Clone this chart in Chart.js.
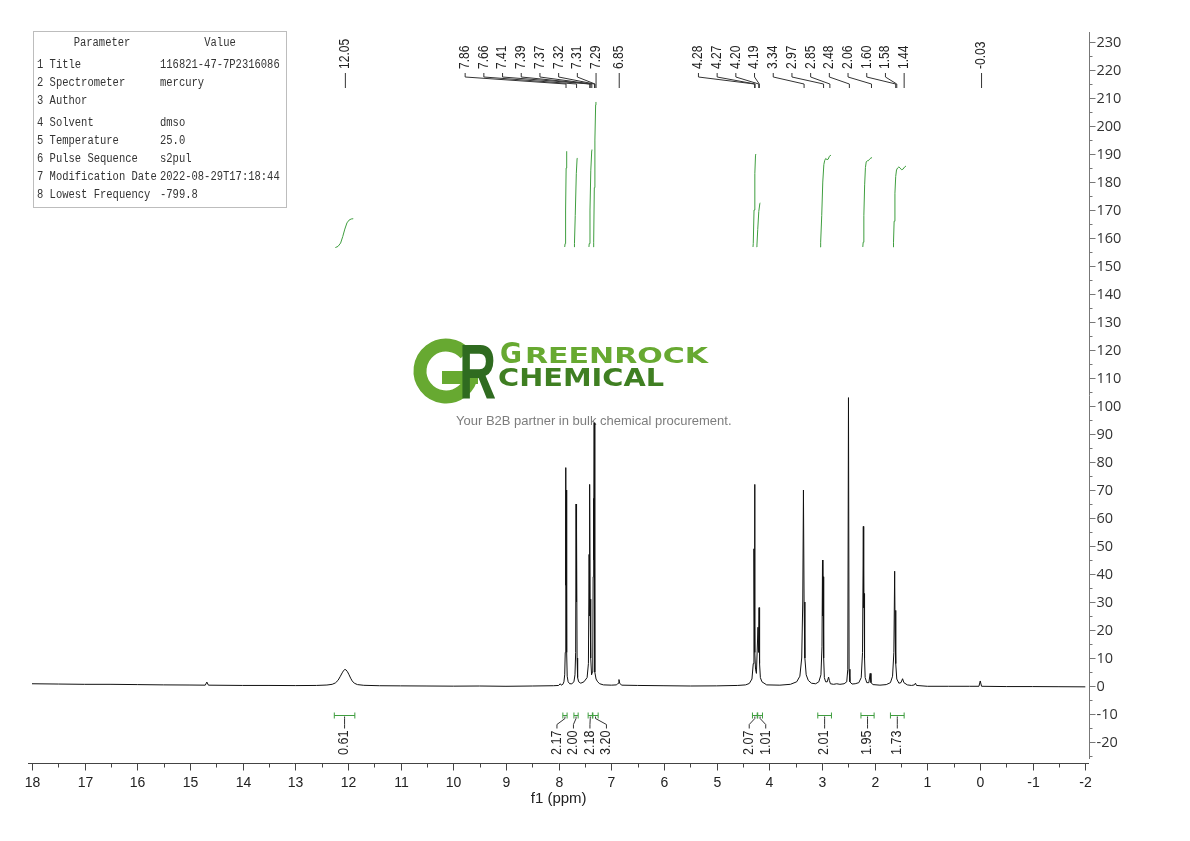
<!DOCTYPE html>
<html>
<head>
<meta charset="utf-8">
<title>1H NMR 116821-47-7</title>
<script src="https://cdn.jsdelivr.net/npm/chart.js@4.4.0/dist/chart.umd.min.js"></script>
<style>
  html, body { margin: 0; padding: 0; background: #fff; }
  #wrap { width: 1190px; height: 841px; }
</style>
</head>
<body>
<div id="wrap"><canvas id="nmr" width="1190" height="841"></canvas></div>
<script>
// spectrum (ppm, intensity)
const specPpm = [18.00, 17.50, 17.00, 16.50, 16.00, 15.50, 15.00, 14.71, 14.68, 14.65, 14.00, 13.50, 13.00, 12.60,
  12.40, 12.30, 12.24, 12.19, 12.15, 12.11, 12.08, 12.06, 12.04, 12.01, 11.98, 11.95, 11.92, 11.88, 11.82, 11.70,
  11.40, 11.00, 10.50, 10.00, 9.50, 9.00, 8.50, 8.10, 8.00, 7.97, 7.95,
  7.92, 7.90, 7.885, 7.875, 7.868, 7.862, 7.855, 7.848, 7.838, 7.82, 7.79, 7.75,
  7.71, 7.69, 7.677, 7.670, 7.664, 7.657, 7.650, 7.64, 7.62, 7.58, 7.52,
  7.46, 7.435, 7.422, 7.415, 7.408, 7.402, 7.395, 7.388, 7.375, 7.360,
  7.352, 7.345, 7.338, 7.332, 7.326, 7.318, 7.31, 7.29, 7.26, 7.22, 7.15,
  7.00, 6.90, 6.87, 6.855, 6.84, 6.80, 6.50, 6.00, 5.50, 5.00, 4.60, 4.45, 4.38,
  4.33, 4.305, 4.292, 4.286, 4.280, 4.272, 4.262, 4.245, 4.215, 4.205, 4.195, 4.185, 4.17, 4.14, 4.05,
  3.80, 3.60, 3.48, 3.42, 3.385, 3.365, 3.352, 3.340, 3.325, 3.30, 3.26, 3.20, 3.12,
  3.06, 3.02, 3.000, 2.990, 2.983, 2.976, 2.968, 2.955, 2.93, 2.90, 2.875, 2.86, 2.84, 2.78, 2.72, 2.66, 2.58,
  2.53, 2.510, 2.497, 2.485, 2.47, 2.43, 2.37, 2.30,
  2.255, 2.230, 2.215, 2.208, 2.200, 2.192, 2.18, 2.15, 2.11, 2.085, 2.07, 2.03, 1.90, 1.78,
  1.70, 1.66, 1.635, 1.620, 1.612, 1.604, 1.595, 1.58, 1.54, 1.50, 1.47, 1.445, 1.38, 1.30,
  1.245, 1.225, 1.205, 1.00, 0.60, 0.20, 0.02, -0.005, -0.03, -0.50, -1.00, -1.50, -2.00];
const specInt = [0.8, 0.7, 0.6, 0.6, 0.5, 0.4, 0.35, 0.3, 1.4, 0.3, 0.2, 0.2, 0.15, 0.2,
  0.35, 0.6, 1.1, 2.0, 3.3, 4.7, 5.6, 5.9, 5.8, 5.1, 4.0, 2.8, 1.8, 1.0, 0.5, 0.25,
  0.1, 0.05, 0.0, -0.05, 0.0, -0.1, 0.0, 0.1, 0.2, 0.8, 0.3,
  0.6, 1.5, 4, 12, 78, 36, 70, 12, 3.5, 1.5, 0.8, 0.8,
  1.5, 4, 12, 65, 30, 56, 10, 3, 1.5, 1.0, 1.5,
  3, 8, 47, 25, 72, 28, 31, 10, 4, 5,
  10, 39, 67, 45, 94, 14, 5, 2.5, 1.5, 0.8, 0.4,
  0.3, 0.4, 1.0, 2.3, 0.9, 0.3, 0.2, 0.1, 0.0, 0.05, 0.2, 0.4, 0.9,
  2.5, 8, 49, 30, 72, 12, 6, 4.5, 21, 12, 28, 8, 3, 1.5, 0.4,
  0.3, 0.6, 1.5, 3.5, 10, 30, 70, 30, 10, 4, 2, 1, 0.8,
  1.5, 4, 14, 45, 25, 39, 10, 3, 1.5, 1.5, 3.2, 2, 0.8, 0.6, 0.8, 0.6, 0.8,
  1.5, 6, 103, 6, 1.5, 0.7, 0.8, 1.2,
  3, 12, 57, 28, 33, 10, 3, 1.2, 1.2, 4.5, 1.2, 0.5, 0.3, 0.5,
  1.2, 3.5, 12, 41, 20, 27, 8, 2.5, 1, 1.2, 2.6, 1.2, 0.4, 0.2,
  0.4, 1.0, 0.2, -0.1, -0.1, -0.1, -0.1, 1.8, -0.1, -0.2, -0.2, -0.25, -0.3];

// integral curves (green)
const intgPpm = [
  [12.24, 12.19, 12.14, 12.10, 12.06, 12.02, 11.98, 11.94, 11.90],
  [7.885, 7.878, 7.868, 7.858, 7.850, 7.845],
  [7.705, 7.700, 7.685, 7.665, 7.650, 7.648],
  [7.425, 7.420, 7.405, 7.390, 7.372, 7.368],
  [7.340, 7.335, 7.323, 7.312, 7.298, 7.292],
  [4.310, 4.305, 4.290, 4.275, 4.262, 4.258],
  [4.240, 4.235, 4.220, 4.200, 4.180, 4.175],
  [3.035, 3.025, 3.005, 2.985, 2.965, 2.950, 2.930, 2.905, 2.880, 2.860, 2.830],
  [2.225, 2.218, 2.205, 2.190, 2.175, 2.160, 2.140, 2.120, 2.095, 2.070, 2.050],
  [1.650, 1.642, 1.630, 1.615, 1.600, 1.585, 1.565, 1.540, 1.515, 1.490, 1.460, 1.430, 1.405]
];
const intgVal = [
  [156.6, 157.0, 158.2, 160.5, 163.2, 165.4, 166.4, 166.8, 166.9],
  [156.8, 158, 170, 185, 190.5, 191],
  [156.8, 158, 168, 183, 188.3, 188.6],
  [156.8, 158, 170, 184, 191.2, 191.6],
  [156.8, 158.5, 178, 195, 207.5, 208.6],
  [156.8, 158, 170, 183, 189.6, 190],
  [156.8, 157.5, 163, 169.5, 172.3, 172.6],
  [156.8, 158.5, 168, 180, 186.2, 187.6, 188.4, 188.0, 188.2, 189.2, 189.6],
  [156.8, 158.5, 168, 179, 185.2, 187.2, 187.6, 187.6, 188.2, 188.6, 188.7],
  [156.8, 158.5, 166, 176, 182, 184.3, 185.0, 185.4, 185.0, 184.4, 184.6, 185.4, 185.7]
];

// integration ranges and values
const intFrom = [12.26, 7.92, 7.71, 7.44, 7.35, 4.32, 4.22, 3.08, 2.26, 1.70];
const intTo = [11.87, 7.84, 7.63, 7.36, 7.25, 4.23, 4.13, 2.82, 2.01, 1.44];
const intValues = ['0.61', '2.17', '2.00', '2.18', '3.20', '2.07', '1.01', '2.01', '1.95', '1.73'];

// peak picking labels
const peakLabels = ['12.05', '7.86', '7.66', '7.41', '7.39', '7.37', '7.32', '7.31', '7.29', '6.85',
  '4.28', '4.27', '4.20', '4.19', '3.34', '2.97', '2.85', '2.48', '2.06', '1.60', '1.58', '1.44', '-0.03'];

// axis ticks
const xTicks = [18, 17, 16, 15, 14, 13, 12, 11, 10, 9, 8, 7, 6, 5, 4, 3, 2, 1, 0, -1, -2];
const yTicks = [-20, -10, 0, 10, 20, 30, 40, 50, 60, 70, 80, 90, 100, 110, 120, 130, 140, 150, 160,
  170, 180, 190, 200, 210, 220, 230];

// parameter table
const paramNames = ['1 Title', '2 Spectrometer', '3 Author', '4 Solvent', '5 Temperature',
  '6 Pulse Sequence', '7 Modification Date', '8 Lowest Frequency'];
const paramValues = ['116821-47-7P2316086', 'mercury', '', 'dmso', '25.0', 's2pul',
  '2022-08-29T17:18:44', '-799.8'];

const GREEN = '#3f9e3f';

// push labels to the left so they do not overlap
function spreadLeft(xs, gap) {
  const out = xs.slice();
  for (let i = out.length - 2; i >= 0; i--) {
    if (out[i] > out[i + 1] - gap) out[i] = out[i + 1] - gap;
  }
  return out;
}

// group overlapping labels and centre each group on its marks
function spreadCentered(xs, gap) {
  let groups = xs.map(x => ({ sum: x, n: 1 }));
  let changed = true;
  while (changed) {
    changed = false;
    for (let i = 0; i < groups.length - 1; i++) {
      const a = groups[i], b = groups[i + 1];
      const aEnd = a.sum / a.n + (a.n - 1) * gap / 2;
      const bStart = b.sum / b.n - (b.n - 1) * gap / 2;
      if (bStart - aEnd < gap) {
        groups.splice(i, 2, { sum: a.sum + b.sum, n: a.n + b.n });
        changed = true;
        break;
      }
    }
  }
  const out = [];
  groups.forEach(g => {
    const c = g.sum / g.n;
    for (let k = 0; k < g.n; k++) out.push(c + (k - (g.n - 1) / 2) * gap);
  });
  return out;
}

// vertical text reading bottom to top, squeezed along its length
function rotText(ctx, text, x, y, squeeze) {
  ctx.save();
  ctx.translate(x, y);
  ctx.rotate(-Math.PI / 2);
  ctx.scale(squeeze, 1);
  ctx.fillText(text, 0, 0);
  ctx.restore();
}

function fitText(ctx, text, x, y, width, font, color) {
  ctx.save();
  ctx.font = font;
  ctx.fillStyle = color;
  ctx.textBaseline = 'alphabetic';
  const w = ctx.measureText(text).width;
  ctx.translate(x, y);
  ctx.scale(width / w, 1);
  ctx.fillText(text, 0, 0);
  ctx.restore();
}

const logoPlugin = {
  id: 'logo',
  beforeDatasetsDraw(chart) {
    const ctx = chart.ctx;
    ctx.save();
    // G ring
    const cx = 446, cy = 371, r = 26;
    ctx.strokeStyle = '#67a931';
    ctx.lineWidth = 13;
    ctx.beginPath();
    ctx.arc(cx, cy, r, 0.12, Math.PI * 2 - 0.72);
    ctx.stroke();
    ctx.fillStyle = '#67a931';
    ctx.fillRect(cx - 4, cy, r + 10, 13);
    // R
    ctx.save();
    ctx.fillStyle = '#2f6b20';
    ctx.font = 'bold 78px "Liberation Sans"';
    ctx.translate(459, 398);
    ctx.scale(0.66, 1);
    ctx.fillText('R', 0, 0);
    ctx.restore();
    fitText(ctx, 'G', 500, 363, 22, 'bold 28px "DejaVu Sans"', '#67a931');
    fitText(ctx, 'REENROCK', 525, 363, 183, 'bold 22px "DejaVu Sans"', '#67a931');
    fitText(ctx, 'CHEMICAL', 498, 386, 166, 'bold 25px "DejaVu Sans"', '#3f7f22');
    ctx.font = '13px "Liberation Sans"';
    ctx.fillStyle = '#7d7d7d';
    ctx.textBaseline = 'middle';
    ctx.fillText('Your B2B partner in bulk chemical procurement.', 456, 421);
    ctx.restore();
  }
};

const decorPlugin = {
  id: 'decor',
  afterDraw(chart) {
    const ctx = chart.ctx;
    const xs = chart.scales.x, ys = chart.scales.y;
    const area = chart.chartArea;
    ctx.save();

    // x axis
    const axY = Math.round(area.bottom) + 0.5;
    ctx.strokeStyle = '#444';
    ctx.lineWidth = 1;
    ctx.beginPath();
    ctx.moveTo(area.left - 4, axY);
    ctx.lineTo(area.right, axY);
    ctx.stroke();
    ctx.font = '14px "Liberation Sans"';
    ctx.fillStyle = '#222';
    ctx.textAlign = 'center';
    ctx.textBaseline = 'middle';
    xTicks.forEach((t, i) => {
      const px = Math.round(xs.getPixelForValue(t)) + 0.5;
      ctx.beginPath();
      ctx.moveTo(px, axY);
      ctx.lineTo(px, axY + 7);
      ctx.stroke();
      ctx.fillText(String(t), px, 783);
      if (i < xTicks.length - 1) {
        const mx = Math.round(xs.getPixelForValue((t + xTicks[i + 1]) / 2)) + 0.5;
        ctx.beginPath();
        ctx.moveTo(mx, axY);
        ctx.lineTo(mx, axY + 4);
        ctx.stroke();
      }
    });
    ctx.font = '15px "Liberation Sans"';
    ctx.fillText('f1 (ppm)', (area.left + xs.getPixelForValue(-2)) / 2, 799);

    // y axis on the right
    const axX = Math.round(area.right) + 0.5;
    ctx.strokeStyle = '#777';
    ctx.beginPath();
    ctx.moveTo(axX, area.top + 2);
    ctx.lineTo(axX, area.bottom - 4);
    ctx.stroke();
    ctx.font = '14.5px "Open Sans"';
    ctx.fillStyle = '#333';
    ctx.textAlign = 'left';
    yTicks.forEach((t, i) => {
      const py = Math.round(ys.getPixelForValue(t)) + 0.5;
      ctx.beginPath();
      ctx.moveTo(axX, py);
      ctx.lineTo(axX + 6, py);
      ctx.stroke();
      ctx.fillText(String(t), axX + 7, py);
      const nxt = i < yTicks.length - 1 ? (t + yTicks[i + 1]) / 2 : null;
      const prv = i === 0 ? t - 5 : null;
      [nxt, prv].forEach(v => {
        if (v === null) return;
        const my = Math.round(ys.getPixelForValue(v)) + 0.5;
        ctx.beginPath();
        ctx.moveTo(axX, my);
        ctx.lineTo(axX + 3, my);
        ctx.stroke();
      });
    });

    // peak labels with connectors
    const peakPx = peakLabels.map(p => xs.getPixelForValue(parseFloat(p)));
    const labPx = spreadLeft(peakPx, 18.7);
    ctx.font = '14px "Liberation Sans"';
    ctx.fillStyle = '#222';
    ctx.textAlign = 'left';
    ctx.textBaseline = 'middle';
    ctx.strokeStyle = '#333';
    peakLabels.forEach((p, i) => {
      const lx = labPx[i], px = peakPx[i];
      rotText(ctx, p, lx, 69, 0.86);
      ctx.beginPath();
      ctx.moveTo(lx, 73);
      ctx.lineTo(lx, 77);
      ctx.lineTo(px, 84);
      ctx.lineTo(px, 88);
      ctx.stroke();
    });

    // integration brackets and values
    const brY = Math.round(ys.getPixelForValue(-10.4)) + 0.5;
    const brA = intFrom.map(v => xs.getPixelForValue(v));
    const brB = intTo.map(v => xs.getPixelForValue(v));
    const brC = brA.map((a, i) => (a + brB[i]) / 2);
    const intLab = spreadCentered(brC, 16.5);
    ctx.font = '14px "Liberation Sans"';
    intValues.forEach((v, i) => {
      const a = brA[i], b = brB[i], c = brC[i], lx = intLab[i];
      ctx.strokeStyle = GREEN;
      ctx.beginPath();
      ctx.moveTo(a, brY); ctx.lineTo(b, brY);
      ctx.moveTo(a, brY - 3); ctx.lineTo(a, brY + 3);
      ctx.moveTo(b, brY - 3); ctx.lineTo(b, brY + 3);
      ctx.stroke();
      ctx.strokeStyle = '#333';
      ctx.beginPath();
      ctx.moveTo(c, brY + 1);
      ctx.lineTo(c, brY + 3);
      ctx.lineTo(lx, brY + 9);
      ctx.lineTo(lx, brY + 13);
      ctx.stroke();
      rotText(ctx, v, lx, 755, 0.9);
    });

    // parameter table
    ctx.strokeStyle = '#bdbdbd';
    ctx.strokeRect(33.5, 31.5, 253, 176);
    ctx.fillStyle = '#333';
    const cell = (text, x, y, align) => {
      ctx.save();
      ctx.font = '12px "Liberation Mono"';
      ctx.textAlign = align;
      ctx.translate(x, y);
      ctx.scale(0.875, 1);
      ctx.fillText(text, 0, 0);
      ctx.restore();
    };
    cell('Parameter', 102, 43, 'center');
    cell('Value', 220, 43, 'center');
    let ry = 65;
    paramNames.forEach((n, i) => {
      cell(n, 37, ry, 'left');
      cell(paramValues[i], 160, ry, 'left');
      ry += (i === 2) ? 22 : 18;
    });

    ctx.restore();
  }
};

const datasets = [{
  data: specPpm.map((x, i) => ({ x: x, y: specInt[i] })),
  showLine: true,
  borderColor: '#111',
  borderWidth: 1,
  pointRadius: 0,
  tension: 0
}];
intgPpm.forEach((pp, k) => {
  datasets.push({
    data: pp.map((x, i) => ({ x: x, y: intgVal[k][i] })),
    showLine: true,
    borderColor: GREEN,
    borderWidth: 1,
    pointRadius: 0,
    tension: 0
  });
});

new Chart(document.getElementById('nmr').getContext('2d'), {
  type: 'scatter',
  data: { datasets: datasets },
  options: {
    responsive: false,
    animation: false,
    devicePixelRatio: 1,
    layout: { padding: { left: 32, right: 101, top: 30, bottom: 78 } },
    scales: {
      x: { type: 'linear', reverse: true, min: -2.07, max: 18, display: false },
      y: { type: 'linear', min: -27.5, max: 234.3, display: false }
    },
    plugins: { legend: { display: false }, tooltip: { enabled: false } }
  },
  plugins: [logoPlugin, decorPlugin]
});
</script>
</body>
</html>
